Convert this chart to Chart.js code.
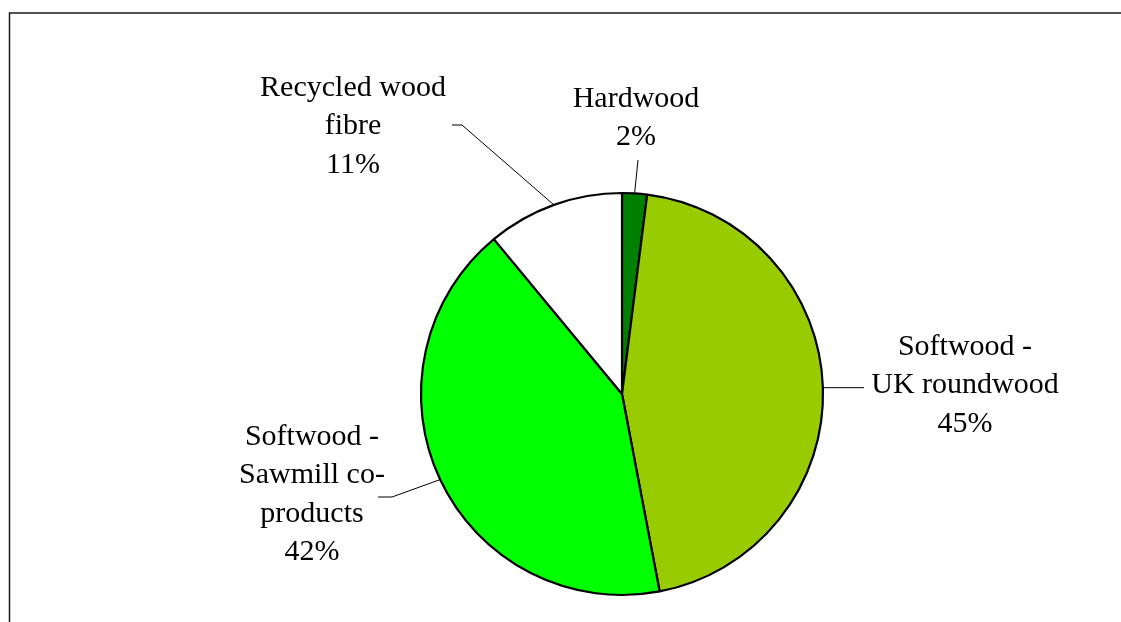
<!DOCTYPE html>
<html>
<head>
<meta charset="utf-8">
<script src="https://cdn.jsdelivr.net/npm/chart.js@4"></script>
<style>
  html, body { margin: 0; padding: 0; background: #fff; }
  #wrap { width: 1121px; height: 622px; position: relative; }
</style>
</head>
<body>
<div id="wrap"><canvas id="c" width="1121" height="622"></canvas></div>
<script>
// Wood fibre sources, share of total (%)
const categories = ['Hardwood', 'Softwood - UK roundwood', 'Softwood - Sawmill co-products', 'Recycled wood fibre'];
const shares = [2, 45, 42, 11];
const sliceColours = ['#008000', '#99CC00', '#00FF00', '#FFFFFF'];

// Label text lines per slice (value line appended from shares)
const labelLines = [
  ['Hardwood'],
  ['Softwood -', 'UK roundwood'],
  ['Softwood -', 'Sawmill co-', 'products'],
  ['Recycled wood', 'fibre']
];

// Label placement: text centre x, first line centre y, and leader elbow points
// (a null y keeps the leader level with its anchor on the slice edge)
const labelLayout = [
  { x: 636, y: 99,  elbow: [[638, 160]] },
  { x: 965, y: 347, elbow: [[864, null]] },
  { x: 312, y: 437, elbow: [[392, 497], [378, 497]] },
  { x: 353, y: 88,  elbow: [[462, 125], [452, 125]] }
];

const LINE_H = 38.5;

const framePlugin = {
  id: 'frame',
  beforeDraw(chart) {
    const ctx = chart.ctx;
    ctx.save();
    ctx.fillStyle = '#fff';
    ctx.fillRect(0, 0, chart.width, chart.height);
    ctx.strokeStyle = '#1a1a1a';
    ctx.lineWidth = 1.5;
    ctx.beginPath();
    ctx.moveTo(9.5, chart.height);
    ctx.lineTo(9.5, 13);
    ctx.lineTo(chart.width, 13);
    ctx.stroke();
    ctx.restore();
  }
};

const labelPlugin = {
  id: 'sliceLabels',
  afterDatasetsDraw(chart) {
    const ctx = chart.ctx;
    const meta = chart.getDatasetMeta(0);
    ctx.save();
    meta.data.forEach((arc, i) => {
      const mid = (arc.startAngle + arc.endAngle) / 2;
      const ax = arc.x + Math.cos(mid) * arc.outerRadius;
      const ay = arc.y + Math.sin(mid) * arc.outerRadius;
      const lay = labelLayout[i];
      // leader line
      ctx.strokeStyle = '#000';
      ctx.lineWidth = 1;
      ctx.beginPath();
      ctx.moveTo(ax, ay);
      lay.elbow.forEach(p => ctx.lineTo(p[0], p[1] === null ? ay : p[1]));
      ctx.stroke();
      // text
      const lines = labelLines[i].concat([shares[i] + '%']);
      ctx.fillStyle = '#000';
      ctx.font = '30px "Liberation Serif", "Times New Roman", serif';
      ctx.textAlign = 'center';
      ctx.textBaseline = 'middle';
      lines.forEach((t, k) => ctx.fillText(t, lay.x, lay.y + k * LINE_H));
    });
    ctx.restore();
  }
};

new Chart(document.getElementById('c'), {
  type: 'pie',
  data: {
    labels: categories,
    datasets: [{
      data: shares,
      backgroundColor: sliceColours,
      borderColor: '#000',
      borderWidth: 2.2,
      radius: 201
    }]
  },
  options: {
    responsive: false,
    animation: false,
    layout: { padding: { left: 123, right: 0, top: 166, bottom: 0 } },
    plugins: {
      legend: { display: false },
      tooltip: { enabled: false }
    }
  },
  plugins: [framePlugin, labelPlugin]
});
</script>
</body>
</html>
